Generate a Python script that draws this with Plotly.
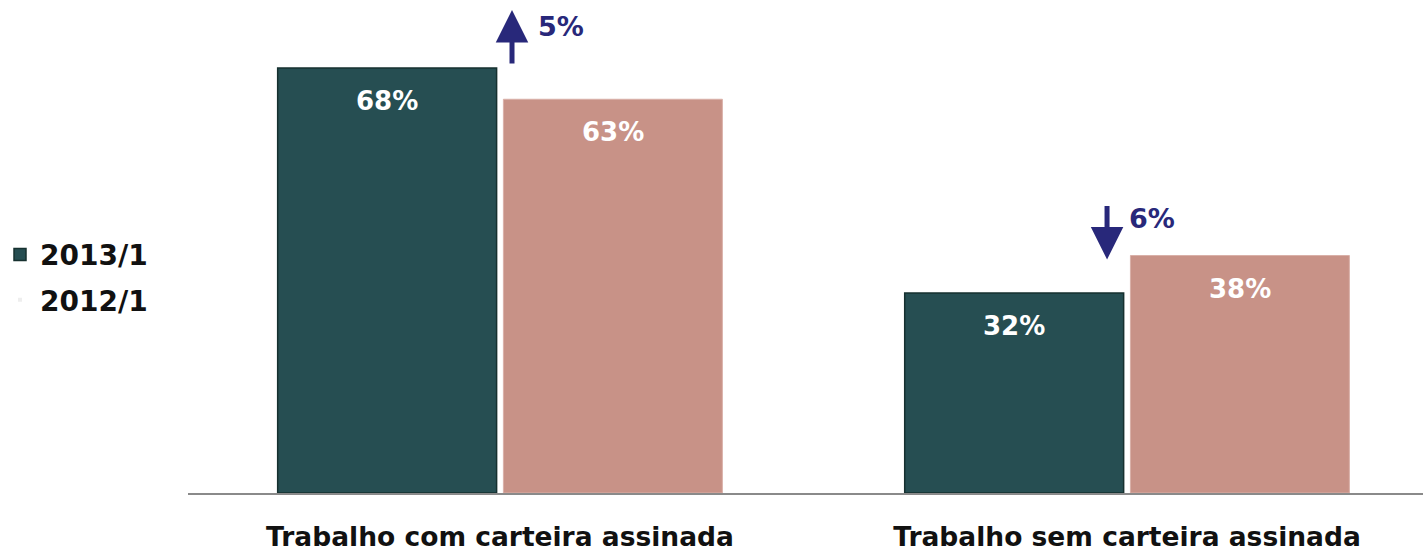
import plotly.graph_objects as go

categories = ["Trabalho com carteira assinada", "Trabalho sem carteira assinada"]
series_names = ["2013/1", "2012/1"]
values_2013 = [68, 32]
values_2012 = [63, 38]
value_labels_2013 = ["68%", "32%"]
value_labels_2012 = ["63%", "38%"]
change_labels = ["5%", "6%"]
change_dirs = ["up", "down"]

TEAL = "#264E52"
PINK = "#C89287"
NAVY = "#28287A"
FONT = "DejaVu Sans"
BARGAP = 0.28
GROUPGAP = 0.03

fig = go.Figure()
fig.add_bar(x=categories, y=values_2013, name=series_names[0],
            marker=dict(color=TEAL, line=dict(color="#16302f", width=1.5)),
            legendgroup="a", hoverinfo="skip")
fig.add_bar(x=categories, y=values_2012, name=series_names[1],
            marker=dict(color=PINK, line=dict(color="#d9b0a8", width=1)),
            legendgroup="b", showlegend=False, hoverinfo="skip")
# legend entry for 2012/1 (nearly invisible icon, as in the original)
fig.add_scatter(x=[None], y=[None], mode="markers", name=series_names[1],
                marker=dict(symbol="square", size=4, color="#eeeeee"),
                legendgroup="b")

slot = (1 - BARGAP) / 2
anns = []
for i, cat in enumerate(categories):
    for vals, labs, side in ((values_2013, value_labels_2013, -1), (values_2012, value_labels_2012, 1)):
        anns.append(dict(x=i + side * slot / 2, y=vals[i], xref="x", yref="y",
                         text=labs[i], showarrow=False, yanchor="top", yshift=-16,
                         font=dict(family=FONT, size=26, color="white", weight="bold")))
    if change_dirs[i] == "up":
        anns.append(dict(x=i, y=values_2013[i], xref="x", yref="y", text="",
                         showarrow=True, arrowhead=2, arrowsize=1.3, arrowwidth=5,
                         arrowcolor=NAVY, ax=0, ay=55, xshift=12, yshift=58, standoff=0))
        anns.append(dict(x=i, y=values_2013[i], xref="x", yref="y", text=change_labels[i],
                         showarrow=False, xshift=61, yshift=42,
                         font=dict(family=FONT, size=27, color=NAVY, weight="bold")))
    else:
        anns.append(dict(x=i, y=values_2012[i], xref="x", yref="y", text="",
                         showarrow=True, arrowhead=2, arrowsize=1.3, arrowwidth=5,
                         arrowcolor=NAVY, ax=0, ay=-55, xshift=-20, yshift=-4, standoff=0))
        anns.append(dict(x=i, y=values_2012[i], xref="x", yref="y", text=change_labels[i],
                         showarrow=False, xshift=25, yshift=37,
                         font=dict(family=FONT, size=27, color=NAVY, weight="bold")))

fig.update_layout(
    width=1423, height=551,
    margin=dict(l=188, r=0, t=10, b=58, autoexpand=False),
    paper_bgcolor="white", plot_bgcolor="white",
    barmode="group", bargap=BARGAP, bargroupgap=GROUPGAP,
    showlegend=True,
    legend=dict(xref="container", x=0, xanchor="left", y=0.545, yanchor="top",
                font=dict(family=FONT, size=28, color="#111111", weight="bold"),
                tracegroupgap=6, bgcolor="rgba(0,0,0,0)"),
    annotations=anns,
    xaxis=dict(range=[-0.4976, 1.472], showline=True, linecolor="#8a8a8a", linewidth=2,
               showgrid=False, zeroline=False, ticks="outside", ticklen=19,
               tickcolor="rgba(0,0,0,0)",
               tickfont=dict(family=FONT, size=26.5, color="#111111", weight="bold")),
    yaxis=dict(range=[0, 77.28], visible=False, showgrid=False, zeroline=False),
)

fig.write_html("out.html", config={"displayModeBar": False},
               post_script="document.body.style.margin='0';document.body.style.overflow='hidden';")
